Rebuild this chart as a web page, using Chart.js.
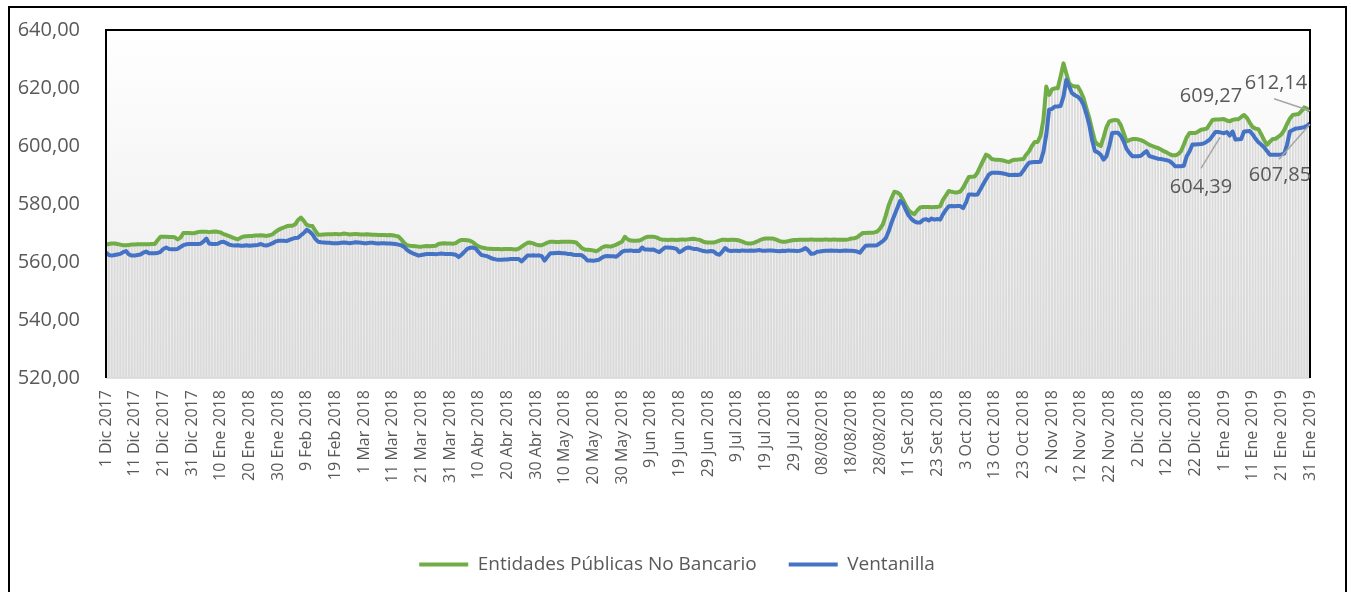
<!DOCTYPE html>
<html lang="es">
<head>
<meta charset="utf-8">
<title>Entidades Públicas No Bancario / Ventanilla</title>
<script src="https://cdn.jsdelivr.net/npm/chart.js@4.4.1/dist/chart.umd.min.js"></script>
<style>
  html, body { margin: 0; padding: 0; background: #fff; overflow: hidden; }
  #wrap { position: relative; width: 1351px; height: 592px; }
  #frame { position: absolute; left: 8px; top: 6px; width: 1335px; height: 700px; border: 2px solid #000; pointer-events: none; }
  canvas { position: absolute; left: 0; top: 0; }
</style>
</head>
<body>
<div id="wrap">
  <canvas id="chart" width="1351" height="592"></canvas>
  <div id="frame"></div>
</div>
<script>
// etiquetas del eje X (una cada 10 días)
const tickLabels = [
  '1 Dic 2017', '11 Dic 2017', '21 Dic 2017', '31 Dic 2017', '10 Ene 2018', '20 Ene 2018', '30 Ene 2018',
  '9 Feb 2018', '19 Feb 2018', '1 Mar 2018', '11 Mar 2018', '21 Mar 2018', '31 Mar 2018', '10 Abr 2018',
  '20 Abr 2018', '30 Abr 2018', '10 May 2018', '20 May 2018', '30 May 2018', '9 Jun 2018', '19 Jun 2018',
  '29 Jun 2018', '9 Jul 2018', '19 Jul 2018', '29 Jul 2018', '08/08/2018', '18/08/2018', '28/08/2018',
  '11 Set 2018', '23 Set 2018', '3 Oct 2018', '13 Oct 2018', '23 Oct 2018', '2 Nov 2018', '12 Nov 2018',
  '22 Nov 2018', '2 Dic 2018', '12 Dic 2018', '22 Dic 2018', '1 Ene 2019', '11 Ene 2019', '21 Ene 2019',
  '31 Ene 2019'
];

// Entidades Públicas No Bancario (valores diarios)
const entidades = [
  566.0, 566.2, 566.4, 566.4, 566.2, 566.0, 565.8, 565.8, 565.9, 566.0,
  566.0, 566.1, 566.1, 566.1, 566.1, 566.1, 566.2, 566.2, 567.5, 568.7,
  568.7, 568.7, 568.6, 568.6, 568.5, 567.8, 568.4, 570.0, 570.0, 570.0,
  569.9, 570.0, 570.3, 570.4, 570.4, 570.4, 570.3, 570.4, 570.5, 570.4,
  570.2, 569.6, 569.3, 568.9, 568.5, 568.1, 567.8, 568.4, 568.8, 568.9,
  569.0, 569.0, 569.1, 569.1, 569.2, 569.1, 569.0, 569.2, 569.5, 570.3,
  571.0, 571.5, 571.9, 572.3, 572.5, 572.5, 573.0, 574.5, 575.3, 574.2,
  572.8, 572.5, 572.4, 570.8, 569.4, 569.4, 569.5, 569.6, 569.6, 569.6,
  569.7, 569.6, 569.6, 569.8, 569.7, 569.5, 569.6, 569.7, 569.6, 569.5,
  569.5, 569.6, 569.5, 569.4, 569.4, 569.3, 569.3, 569.3, 569.2, 569.3,
  569.2, 569.0, 568.8, 567.8, 566.6, 565.8, 565.6, 565.5, 565.4, 565.3,
  565.3, 565.4, 565.5, 565.4, 565.5, 565.6, 566.2, 566.4, 566.5, 566.4,
  566.4, 566.3, 566.5, 567.2, 567.6, 567.6, 567.5, 567.3, 566.8, 566.0,
  565.4, 565.0, 564.8, 564.6, 564.6, 564.5, 564.5, 564.5, 564.4, 564.5,
  564.5, 564.5, 564.4, 564.3, 564.6, 565.3, 566.0, 566.6, 566.7, 566.4,
  566.0, 565.8, 565.8, 566.2, 566.7, 567.0, 567.0, 566.9, 566.9, 567.0,
  567.0, 567.0, 567.0, 566.9, 566.7, 565.8, 564.8, 564.3, 564.2, 564.1,
  564.0, 563.7, 564.2, 565.0, 565.4, 565.4, 565.3, 565.6, 566.0, 566.5,
  567.0, 568.7, 567.8, 567.4, 567.3, 567.3, 567.4, 567.8, 568.4, 568.7,
  568.7, 568.7, 568.5, 568.0, 567.7, 567.7, 567.6, 567.7, 567.7, 567.6,
  567.7, 567.8, 567.7, 567.8, 567.9, 568.0, 567.8, 567.7, 567.2, 566.8,
  566.7, 566.7, 566.7, 567.0, 567.4, 567.7, 567.7, 567.6, 567.7, 567.7,
  567.6, 567.4, 567.0, 566.6, 566.4, 566.4, 566.6, 567.0, 567.5, 567.9,
  568.1, 568.1, 568.1, 568.0, 567.6, 567.2, 567.0, 567.0, 567.2, 567.4,
  567.6, 567.6, 567.7, 567.7, 567.7, 567.7, 567.8, 567.7, 567.7, 567.7,
  567.7, 567.8, 567.7, 567.7, 567.8, 567.7, 567.7, 567.7, 567.7, 567.8,
  568.1, 568.2, 568.5, 569.3, 570.0, 570.0, 570.1, 570.1, 570.2, 570.5,
  571.5, 573.0, 576.0, 579.5, 582.0, 584.2, 584.0, 583.3, 581.5, 579.5,
  577.8, 577.0, 576.5, 577.8, 578.8, 579.0, 579.0, 579.0, 578.9, 579.0,
  579.0, 579.2, 581.5, 583.0, 584.5, 584.2, 584.0, 584.0, 584.3, 585.6,
  587.5, 589.3, 589.4, 589.5, 590.8, 593.0, 595.0, 597.0, 596.5, 595.5,
  595.3, 595.3, 595.2, 595.0, 594.7, 594.5, 595.0, 595.3, 595.3, 595.4,
  595.5, 597.0, 598.2, 600.0, 601.4, 601.4, 603.5, 609.0, 620.5, 617.6,
  619.5, 619.9, 619.9, 624.0, 628.5, 625.0, 621.6, 620.8, 620.5, 620.5,
  618.8, 616.5, 613.0, 609.7, 605.5, 601.6, 600.5, 600.0, 603.0, 606.5,
  608.5, 608.8, 609.0, 608.8, 607.2, 604.5, 601.6, 602.0, 602.4, 602.4,
  602.3, 602.0, 601.6, 601.0, 600.4, 600.0, 599.6, 599.3, 598.8, 598.2,
  597.8, 597.2, 596.8, 596.8, 597.2, 598.2, 600.5, 603.0, 604.5, 604.5,
  604.5, 605.0, 605.6, 605.8, 606.0, 607.5, 609.0, 609.1, 609.1, 609.2,
  609.27, 608.8, 608.5, 609.0, 609.2, 609.2, 610.0, 610.7, 609.7, 608.0,
  606.5, 606.0, 605.8, 604.0, 602.0, 600.4, 601.5, 602.4, 602.5, 603.2,
  604.0, 605.5, 607.6, 609.5, 610.7, 610.9, 611.0, 612.0, 613.3, 612.8,
  612.14
];

// Ventanilla (valores diarios)
const ventanilla = [
  563.3, 562.4, 562.2, 562.4, 562.6, 562.8, 563.4, 563.8, 562.6, 562.2,
  562.2, 562.4, 562.6, 563.2, 563.6, 563.0, 563.0, 563.0, 563.1, 563.5,
  564.5, 565.0, 564.5, 564.4, 564.4, 564.5, 565.2, 565.8, 566.1, 566.2,
  566.2, 566.2, 566.2, 566.3, 567.0, 568.1, 566.4, 566.2, 566.2, 566.3,
  566.8, 567.0, 566.5, 566.0, 565.8, 565.7, 565.8, 565.6, 565.6, 565.8,
  565.6, 565.7, 565.8, 565.9, 566.2, 565.8, 565.7, 566.0, 566.4, 567.0,
  567.3, 567.3, 567.3, 567.2, 567.6, 568.0, 568.3, 568.4, 569.2, 570.0,
  571.1, 570.5, 569.6, 568.0, 567.0, 566.8, 566.7, 566.6, 566.6, 566.5,
  566.5, 566.5, 566.6, 566.7, 566.6, 566.5, 566.6, 566.8, 566.7, 566.6,
  566.5, 566.5, 566.6, 566.6, 566.5, 566.4, 566.5, 566.5, 566.4, 566.4,
  566.3, 566.2, 566.0, 565.8, 565.2, 564.2, 563.5, 563.0, 562.6, 562.2,
  562.4, 562.6, 562.8, 562.8, 562.8, 562.7, 562.8, 562.9, 562.8, 562.8,
  562.8, 562.7, 562.5, 561.7, 562.5, 563.5, 564.5, 564.9, 565.0, 564.6,
  563.4, 562.4, 562.2, 562.0, 561.5, 561.1, 560.9, 560.8, 560.8, 560.9,
  560.9, 561.0, 561.0, 561.0, 561.0, 560.2, 561.2, 562.2, 562.2, 562.3,
  562.2, 562.3, 562.0, 560.5, 561.8, 563.0, 563.0, 563.1, 563.2, 563.0,
  563.0, 562.8, 562.8, 562.5, 562.4, 562.4, 562.3, 561.5, 560.5, 560.5,
  560.4, 560.6, 560.8, 561.5, 562.0, 562.1, 562.0, 562.0, 561.8, 562.6,
  563.5, 563.9, 563.9, 564.0, 563.8, 563.9, 563.8, 565.0, 564.3, 564.3,
  564.2, 564.3, 563.8, 563.4, 564.2, 565.0, 565.0, 564.9, 564.8, 564.5,
  563.4, 563.9, 564.6, 565.0, 564.8, 564.5, 564.5, 564.2, 563.9, 563.7,
  563.6, 563.8, 563.6, 562.8, 562.5, 563.6, 564.8, 564.0, 563.8, 563.9,
  563.9, 563.8, 564.0, 563.9, 563.9, 564.0, 563.9, 564.0, 564.1, 563.9,
  563.9, 564.0, 564.0, 563.9, 563.8, 563.7, 563.9, 563.8, 564.0, 563.9,
  563.9, 563.8, 563.9, 564.2, 564.8, 564.0, 562.8, 562.9, 563.5, 563.6,
  563.8, 563.9, 563.9, 564.0, 563.9, 563.9, 563.8, 563.9, 564.0, 563.9,
  563.9, 563.8, 563.6, 563.2, 564.5, 565.6, 565.7, 565.7, 565.7, 565.8,
  566.5, 567.2, 568.2, 570.5, 573.5, 576.0, 578.5, 581.0, 580.2, 578.0,
  576.0, 574.8, 574.0, 573.6, 573.6, 574.5, 574.8, 574.3, 575.0, 574.6,
  574.8, 574.6, 576.5, 578.0, 579.2, 579.3, 579.2, 579.3, 579.3, 578.6,
  580.5, 583.3, 583.3, 583.2, 583.3, 585.0, 586.8, 588.5, 590.2, 590.8,
  590.8, 590.8, 590.7, 590.5, 590.3, 590.0, 590.0, 590.1, 590.0, 590.2,
  591.5, 593.0, 594.2, 594.4, 594.5, 594.5, 594.6, 598.0, 603.9, 612.5,
  612.8, 613.6, 613.6, 613.8, 617.0, 622.8, 620.5, 618.2, 617.5, 617.0,
  616.0, 614.2, 611.0, 607.3, 602.0, 598.2, 597.8, 597.0, 595.3, 596.5,
  600.0, 604.5, 604.6, 604.6, 603.5, 601.6, 599.0, 597.6, 596.5, 596.5,
  596.5, 596.6, 597.5, 598.2, 596.5, 596.2, 595.9, 595.6, 595.5, 595.3,
  595.1, 594.8, 594.0, 593.0, 593.0, 593.0, 593.2, 596.5, 598.2, 600.5,
  600.5, 600.6, 600.7, 600.9, 601.5, 602.2, 603.5, 604.8, 604.8, 604.6,
  604.39, 604.8, 603.6, 605.0, 602.2, 602.3, 602.4, 605.0, 605.1, 605.2,
  604.0, 602.5, 601.3, 600.5, 599.5, 598.3, 597.0, 597.0, 597.0, 597.0,
  597.1, 597.4, 600.5, 605.0, 605.5, 606.0, 606.1, 606.3, 606.5, 607.0,
  607.85
];

// puntos con etiqueta de datos: [serie, índice]
const labeledPoints = [[0, 390], [0, 420], [1, 390], [1, 420]];

const FONT = '"Open Sans", "DejaVu Sans", sans-serif';
const TEXT_GRAY = '#595959';

// una categoría por día; solo cada 10 lleva texto
const categories = entidades.map((v, i) => (i % 10 === 0 ? tickLabels[i / 10] : ''));

const fmt = v => Number(v).toFixed(2).replace('.', ',');

// fondo degradado del área de trazado
const plotBackground = {
  id: 'plotBackground',
  beforeDraw(chart) {
    const { ctx, chartArea: a } = chart;
    const g = ctx.createLinearGradient(0, a.top, 0, a.bottom);
    g.addColorStop(0, '#ffffff');
    g.addColorStop(1, '#eaeaea');
    ctx.save();
    ctx.fillStyle = g;
    ctx.fillRect(a.left, a.top, a.right - a.left, a.bottom - a.top);
    ctx.restore();
    // la leyenda del original queda un poco a la derecha del centro
    if (chart.legend && !chart.legend._shifted) {
      chart.legend.left += 22;
      chart.legend.right += 22;
      chart.legend._shifted = true;
    }
  }
};

// marco del área de trazado
const plotFrame = {
  id: 'plotFrame',
  afterDraw(chart) {
    const { ctx, chartArea: a } = chart;
    ctx.save();
    ctx.strokeStyle = '#d9d9d9';
    ctx.lineWidth = 1.5;
    ctx.beginPath();
    ctx.moveTo(a.left, a.bottom);
    ctx.lineTo(a.right, a.bottom);
    ctx.stroke();
    ctx.strokeStyle = '#000';
    ctx.lineWidth = 2;
    ctx.beginPath();
    ctx.moveTo(a.left, a.bottom);
    ctx.lineTo(a.left, a.top);
    ctx.lineTo(a.right, a.top);
    ctx.lineTo(a.right, a.bottom);
    ctx.stroke();
    ctx.restore();
  }
};

// etiquetas de datos con línea guía
const labelLayout = {
  '0-390': { dx: -13, dy: -23 },
  '0-420': { dx: -34, dy: -27, lead: [-2, 15], end: [0, 0] },
  '1-390': { dx: -23, dy: 54, lead: [0, -19], end: [-4, 4] },
  '1-420': { dx: -30, dy: 52, lead: [-1, -16], end: [0, 1] }
};
const dataLabels = {
  id: 'dataLabels',
  afterDraw(chart) {
    const { ctx } = chart;
    ctx.save();
    labeledPoints.forEach(([ds, idx]) => {
      const el = chart.getDatasetMeta(ds).data[idx];
      const value = chart.data.datasets[ds].data[idx];
      const l = labelLayout[ds + '-' + idx];
      const tx = el.x + l.dx, ty = el.y + l.dy;
      if (l.lead) {
        ctx.strokeStyle = '#a6a6a6';
        ctx.lineWidth = 1.5;
        ctx.beginPath();
        ctx.moveTo(tx + l.lead[0], ty + l.lead[1]);
        ctx.lineTo(el.x + l.end[0], el.y + l.end[1]);
        ctx.stroke();
      }
      ctx.fillStyle = TEXT_GRAY;
      ctx.font = '20px ' + FONT;
      ctx.textAlign = 'center';
      ctx.textBaseline = 'middle';
      ctx.fillText(fmt(value), tx, ty);
    });
    ctx.restore();
  }
};

new Chart(document.getElementById('chart'), {
  type: 'bar',
  data: {
    labels: categories,
    datasets: [
      {
        type: 'line',
        label: 'Entidades Públicas No Bancario',
        data: entidades,
        borderColor: '#70ad47',
        backgroundColor: '#70ad47',
        borderWidth: 4,
        pointRadius: 0,
        tension: 0,
        borderJoinStyle: 'round',
        fill: false,
        order: 2
      },
      {
        type: 'line',
        label: 'Ventanilla',
        data: ventanilla,
        borderColor: '#4472c4',
        backgroundColor: '#4472c4',
        borderWidth: 4,
        pointRadius: 0,
        tension: 0,
        borderJoinStyle: 'round',
        fill: false,
        order: 1
      },
      {
        type: 'bar',
        label: 'base',
        data: entidades,
        backgroundColor: '#dadada',
        borderWidth: 0,
        barPercentage: 0.65,
        categoryPercentage: 1.0,
        order: 3
      }
    ]
  },
  options: {
    responsive: false,
    animation: false,
    layout: { padding: { top: 28, right: 41, bottom: 8, left: 0 } },
    plugins: {
      tooltip: { enabled: false },
      legend: {
        position: 'bottom',
        labels: {
          boxWidth: 49,
          boxHeight: 4,
          padding: 32,
          color: TEXT_GRAY,
          font: { family: FONT, size: 19 },
          generateLabels: chart =>
            Chart.defaults.plugins.legend.labels.generateLabels(chart).map(it => ({ ...it, lineWidth: 0 })),
          filter: item => item.datasetIndex !== 2,
          sort: (a, b) => a.datasetIndex - b.datasetIndex
        }
      }
    },
    scales: {
      x: {
        offset: false,
        grid: { display: false },
        border: { display: false },
        ticks: {
          autoSkip: false,
          minRotation: 90,
          maxRotation: 90,
          padding: 4,
          color: TEXT_GRAY,
          font: { family: FONT, size: 16 }
        },
        afterFit: scale => { scale.height = 145; }
      },
      y: {
        min: 520,
        max: 640,
        grid: { display: false },
        border: { display: false },
        ticks: {
          stepSize: 20,
          padding: 18,
          color: TEXT_GRAY,
          font: { family: FONT, size: 20 },
          callback: v => fmt(v)
        },
        afterFit: scale => { scale.width = 106; }
      }
    }
  },
  plugins: [plotBackground, plotFrame, dataLabels]
});
</script>
</body>
</html>
